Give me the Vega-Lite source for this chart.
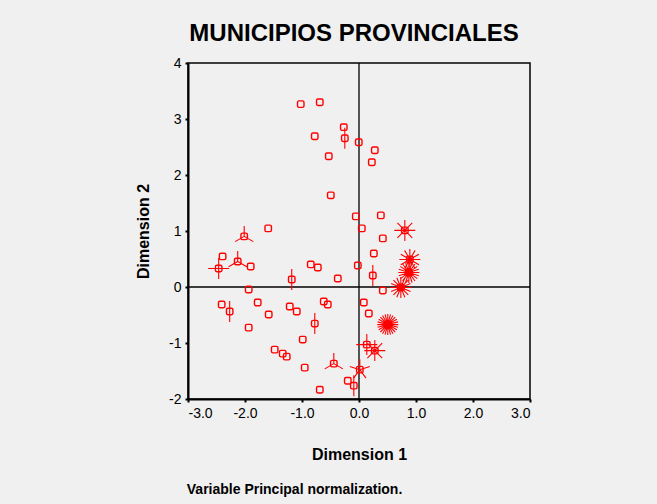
{
  "$schema": "https://vega.github.io/schema/vega-lite/v6.json",
  "background": "#f0f0f0",
  "padding": {"left": 134, "top": 21, "right": 125, "bottom": 11},
  "config": {
    "font": "Liberation Sans",
    "view": {"stroke": "black", "strokeWidth": 1.5, "fill": "#f0f0f0"},
    "axis": {
      "grid": false,
      "domainColor": "black",
      "domainWidth": 2,
      "tickColor": "black",
      "tickSize": 3,
      "tickWidth": 2,
      "labelFont": "Liberation Sans",
      "labelFontSize": 14,
      "labelColor": "black",
      "titleFont": "Liberation Sans",
      "titleFontSize": 16,
      "titleFontWeight": "bold",
      "titleColor": "black"
    }
  },
  "title": {
    "text": "Variable Principal normalization.",
    "orient": "bottom",
    "anchor": "start",
    "font": "Liberation Sans",
    "fontSize": 14,
    "fontWeight": "bold",
    "color": "black",
    "offset": 20,
    "dx": 52
  },
  "vconcat": [
    {
      "title": {
        "text": "MUNICIPIOS PROVINCIALES",
        "font": "Liberation Sans",
        "fontSize": 24,
        "fontWeight": "bold",
        "color": "black",
        "anchor": "middle",
        "offset": 10,
        "dx": -5
      },
      "width": 342,
      "height": 336,
      "data": {
        "values": [
          {"x": -1.022, "y": 3.265, "n": 1},
          {"x": -0.688, "y": 3.30, "n": 1},
          {"x": -0.267, "y": 2.854, "n": 1},
          {"x": -0.249, "y": 2.657, "n": 2},
          {"x": -0.776, "y": 2.692, "n": 1},
          {"x": -0.004, "y": 2.585, "n": 1},
          {"x": 0.277, "y": 2.442, "n": 1},
          {"x": 0.225, "y": 2.227, "n": 1},
          {"x": -0.530, "y": 2.335, "n": 1},
          {"x": -0.495, "y": 1.637, "n": 1},
          {"x": -0.056, "y": 1.261, "n": 1},
          {"x": 0.049, "y": 1.047, "n": 1},
          {"x": 0.383, "y": 1.279, "n": 1},
          {"x": 0.804, "y": 1.011, "n": 8},
          {"x": -1.593, "y": 1.047, "n": 1},
          {"x": -2.014, "y": 0.904, "n": 3},
          {"x": -2.393, "y": 0.546, "n": 1},
          {"x": -2.462, "y": 0.331, "n": 4},
          {"x": -2.128, "y": 0.456, "n": 3},
          {"x": -1.900, "y": 0.367, "n": 1},
          {"x": -0.846, "y": 0.403, "n": 1},
          {"x": -0.723, "y": 0.349, "n": 1},
          {"x": -0.021, "y": 0.385, "n": 1},
          {"x": -0.372, "y": 0.152, "n": 1},
          {"x": -1.180, "y": 0.134, "n": 2},
          {"x": -1.935, "y": -0.045, "n": 1},
          {"x": -2.409, "y": -0.313, "n": 1},
          {"x": -2.269, "y": -0.438, "n": 2},
          {"x": -1.777, "y": -0.277, "n": 1},
          {"x": -1.584, "y": -0.492, "n": 1},
          {"x": -1.215, "y": -0.349, "n": 1},
          {"x": -1.092, "y": -0.438, "n": 1},
          {"x": -0.618, "y": -0.259, "n": 1},
          {"x": -0.548, "y": -0.313, "n": 1},
          {"x": -0.776, "y": -0.653, "n": 2},
          {"x": -1.935, "y": -0.725, "n": 1},
          {"x": -0.987, "y": -0.939, "n": 1},
          {"x": -1.479, "y": -1.118, "n": 1},
          {"x": -1.338, "y": -1.190, "n": 1},
          {"x": -1.268, "y": -1.243, "n": 1},
          {"x": -0.952, "y": -1.440, "n": 1},
          {"x": -0.442, "y": -1.368, "n": 3},
          {"x": 0.014, "y": -1.476, "n": 5},
          {"x": -0.197, "y": -1.673, "n": 1},
          {"x": -0.091, "y": -1.762, "n": 2},
          {"x": -0.688, "y": -1.834, "n": 1},
          {"x": 0.418, "y": 0.868, "n": 1},
          {"x": 0.260, "y": 0.599, "n": 1},
          {"x": 0.242, "y": 0.206, "n": 2},
          {"x": 0.892, "y": 0.492, "n": 12},
          {"x": 0.874, "y": 0.259, "n": 20},
          {"x": 0.734, "y": -0.009, "n": 16},
          {"x": 0.418, "y": -0.063, "n": 1},
          {"x": 0.084, "y": -0.277, "n": 1},
          {"x": 0.172, "y": -0.474, "n": 1},
          {"x": 0.505, "y": -0.671, "n": 24},
          {"x": 0.137, "y": -1.029, "n": 4},
          {"x": 0.277, "y": -1.136, "n": 8}
        ]
      },
      "encoding": {
        "x": {
          "field": "x",
          "type": "quantitative",
          "title": "Dimension 1",
          "scale": {"domain": [-3, 3], "nice": false, "zero": false},
          "axis": {"values": [-3, -2, -1, 0, 1, 2, 3], "format": ".1f", "labelExpr": "replace(datum.label, '\u2212', '-')", "labelPadding": 4, "titlePadding": 26}
        },
        "y": {
          "field": "y",
          "type": "quantitative",
          "title": "Dimension 2",
          "scale": {"domain": [-2, 4], "nice": false, "zero": false},
          "axis": {"values": [-2, -1, 0, 1, 2, 3, 4], "format": "d", "labelExpr": "replace(datum.label, '\u2212', '-')", "labelPadding": 4, "titlePadding": 17}
        }
      },
      "layer": [
        {
          "data": {"values": [{"v": 0}]},
          "mark": {"type": "rule", "color": "black", "strokeWidth": 1.3},
          "encoding": {"x": {"field": "v", "type": "quantitative"}, "y": null}
        },
        {
          "data": {"values": [{"v": 0}]},
          "mark": {"type": "rule", "color": "black", "strokeWidth": 1.3},
          "encoding": {"y": {"field": "v", "type": "quantitative"}, "x": null}
        },
        {
          "mark": {
            "type": "point",
            "shape": "M-0.55,-1L0.55,-1Q1,-1 1,-0.55L1,0.55Q1,1 0.55,1L-0.55,1Q-1,1 -1,0.55L-1,-0.55Q-1,-1 -0.55,-1Z",
            "filled": false,
            "color": "#ff0000",
            "opacity": 1,
            "size": 42,
            "strokeWidth": 1.4
          }
        },
        {
          "transform": [{"filter": "datum.n > 1"}],
          "mark": {
            "type": "point",
            "filled": false,
            "color": "#ff0000",
            "opacity": 1,
            "size": 441,
            "strokeWidth": 1.1
          },
          "encoding": {
            "shape": {
              "field": "n",
              "type": "nominal",
              "legend": null,
              "scale": {
                "domain": [2, 3, 4, 5, 8, 12, 16, 20, 24],
                "range": [
                  "M0,-1L0,1",
                  "M0,0L0,-1M0,0L-0.866,0.5M0,0L0.866,0.5",
                  "M-1,0L1,0M0,-1L0,1",
                  "M0,0L0,-1M0,0L-0.951,-0.309M0,0L-0.588,0.809M0,0L0.588,0.809M0,0L0.951,-0.309",
                  "M-1,0L1,0M0,-1L0,1M-0.707,-0.707L0.707,0.707M-0.707,0.707L0.707,-0.707",
                  "M-1,0L1,0M0,-1L0,1M0.866,-0.5L-0.866,0.5M0.5,-0.866L-0.5,0.866M-0.5,-0.866L0.5,0.866M-0.866,-0.5L0.866,0.5",
                  "M-1,0L1,0M0,-1L0,1M-0.707,-0.707L0.707,0.707M-0.707,0.707L0.707,-0.707M0.924,-0.383L-0.924,0.383M0.383,-0.924L-0.383,0.924M-0.383,-0.924L0.383,0.924M-0.924,-0.383L0.924,0.383",
                  "M-1,0L1,0M0.951,-0.309L-0.951,0.309M0.809,-0.588L-0.809,0.588M0.588,-0.809L-0.588,0.809M0.309,-0.951L-0.309,0.951M0,-1L0,1M-0.309,-0.951L0.309,0.951M-0.588,-0.809L0.588,0.809M-0.809,-0.588L0.809,0.588M-0.951,-0.309L0.951,0.309",
                  "M-1,0L1,0M0.966,-0.259L-0.966,0.259M0.866,-0.5L-0.866,0.5M0.707,-0.707L-0.707,0.707M0.5,-0.866L-0.5,0.866M0.259,-0.966L-0.259,0.966M0,-1L0,1M-0.259,-0.966L0.259,0.966M-0.5,-0.866L0.5,0.866M-0.707,-0.707L0.707,0.707M-0.866,-0.5L0.866,0.5M-0.966,-0.259L0.966,0.259"
                ]
              }
            }
          }
        }
      ]
    }
  ]
}
